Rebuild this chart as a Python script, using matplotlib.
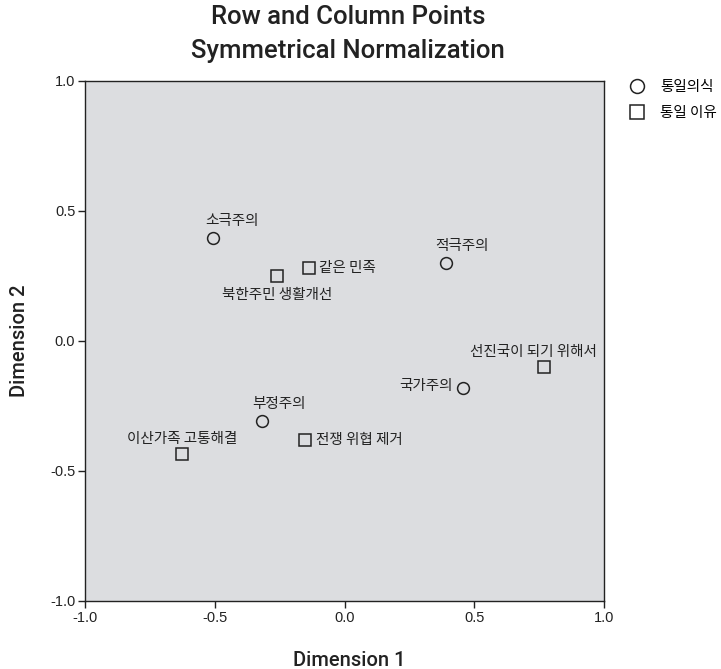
import matplotlib
matplotlib.use("Agg")
import matplotlib.pyplot as plt
from matplotlib.lines import Line2D

# Row points (통일의식)
row_labels = ["소극주의", "적극주의", "국가주의", "부정주의"]
row_x = [-0.507, 0.391, 0.457, -0.318]
row_y = [0.396, 0.300, -0.181, -0.308]

# Column points (통일 이유)
col_labels = ["같은 민족", "북한주민 생활개선", "선진국이 되기 위해서", "전쟁 위협 제거", "이산가족 고통해결"]
col_x = [-0.137, -0.260, 0.769, -0.152, -0.626]
col_y = [0.281, 0.250, -0.100, -0.381, -0.435]

x_ticks = [-1.0, -0.5, 0.0, 0.5, 1.0]
y_ticks = [-1.0, -0.5, 0.0, 0.5, 1.0]

kor = ["Noto Sans CJK KR", "DejaVu Sans"]
tick_font = ["Liberation Sans Narrow", "Liberation Sans", "DejaVu Sans"]
title_font = ["Roboto", "DejaVu Sans"]
ink = "#222222"

fig = plt.figure(figsize=(7.21, 6.69), dpi=100)
ax = fig.add_axes([85 / 721, 1 - 601 / 669, 519 / 721, 520 / 669])
ax.set_facecolor("#dcdde0")

ax.plot(row_x, row_y, linestyle="none", marker="o", markersize=8.5,
        markerfacecolor="none", markeredgecolor=ink, markeredgewidth=1.1)
ax.plot(col_x, col_y, linestyle="none", marker="s", markersize=8,
        markerfacecolor="none", markeredgecolor=ink, markeredgewidth=1.1)

# label placement: (dx, dy) in pixels, horizontal alignment
row_pos = [((-8, 10), "left"), ((-11, 10), "left"), ((-10, 2), "right"), ((-10, 10), "left")]
col_pos = [((10, 0), "left"), ((0, -12), "center"), ((-74, 8), "left"),
           ((11, 0), "left"), ((0, 8), "center")]

def put(labels, xs, ys, pos):
    for lab, x, y, ((dx, dy), ha) in zip(labels, xs, ys, pos):
        ax.annotate(lab, (x, y), xytext=(dx, dy), textcoords="offset pixels",
                    ha=ha, va="bottom" if dy > 5 else ("top" if dy < -5 else "center"),
                    fontsize=10.5, family=kor, color=ink)

put(row_labels, row_x, row_y, row_pos)
put(col_labels, col_x, col_y, col_pos)

ax.set_xlim(-1.0, 1.0)
ax.set_ylim(-1.0, 1.0)
ax.set_xticks(x_ticks)
ax.set_yticks(y_ticks)
ax.set_xticklabels([f"{t:.1f}" for t in x_ticks], family=tick_font, fontsize=10.5)
ax.set_yticklabels([f"{t:.1f}" for t in y_ticks], family=tick_font, fontsize=10.5)
ax.tick_params(direction="out", length=5, width=1, color=ink, labelcolor=ink, pad=2)
for s in ax.spines.values():
    s.set_color(ink)
    s.set_linewidth(1.0)

fig.text(349 / 721, 1 - 660 / 669, "Dimension 1", ha="center", va="center",
         family=title_font, fontsize=14.5, fontweight="medium", color=ink)
fig.text(20 / 721, 1 - 341 / 669, "Dimension 2", ha="center", va="center", rotation=90,
         family=title_font, fontsize=14.5, fontweight="medium", color=ink)

fig.text(348 / 721, 1 - 17 / 669, "Row and Column Points", ha="center", va="center",
         family=title_font, fontsize=18.5, fontweight="medium", color=ink)
fig.text(348 / 721, 1 - 51 / 669, "Symmetrical Normalization", ha="center", va="center",
         family=title_font, fontsize=18.5, fontweight="medium", color=ink)

handles = [
    Line2D([], [], linestyle="none", marker="o", markersize=10, markerfacecolor="none",
           markeredgecolor=ink, markeredgewidth=1.1),
    Line2D([], [], linestyle="none", marker="s", markersize=10, markerfacecolor="none",
           markeredgecolor=ink, markeredgewidth=1.1),
]
fig.legend(handles, ["통일의식", "통일 이유"], loc="upper left",
           bbox_to_anchor=(628 / 721, 1 - 80 / 669), frameon=False,
           prop={"family": kor, "size": 10.5}, handletextpad=1.0, labelspacing=0.8,
           handlelength=1.2, borderaxespad=0, borderpad=0)

fig.savefig("out.png", dpi=100)
